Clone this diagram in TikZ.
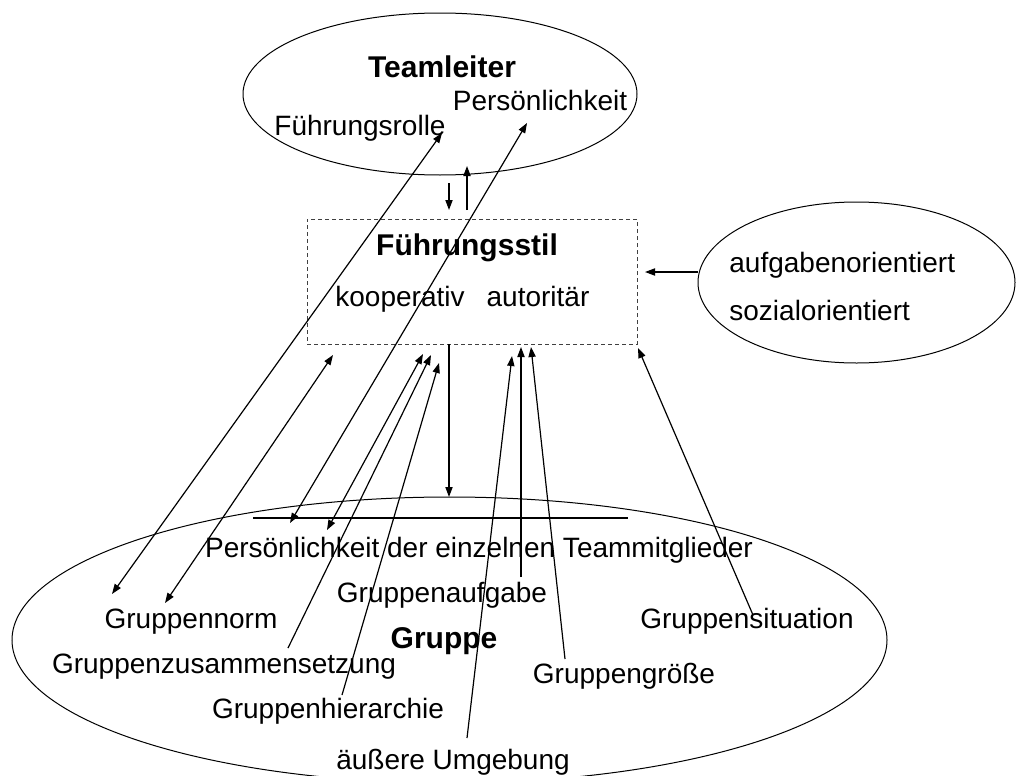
\documentclass[tikz,border=0pt]{standalone}
\usepackage{fontspec}
\setmainfont{Liberation Sans}
\usetikzlibrary{arrows.meta,shapes.geometric}
\begin{document}
\begin{tikzpicture}[x=0.5pt,y=-0.5pt,
  lbl/.style={anchor=base,inner sep=0pt,font=\fontsize{14}{16}\selectfont},
  ttl/.style={anchor=base,inner sep=0pt,font=\fontsize{15}{17}\selectfont\bfseries},
  oval/.style={draw,ellipse,inner sep=0pt,line width=0.5pt},
  con/.style={line width=0.6pt,-{Triangle[length=5pt,width=3.6pt]}},
  dcon/.style={line width=0.6pt,{Triangle[length=5pt,width=3.6pt]}-{Triangle[length=5pt,width=3.6pt]}},
  bar/.style={line width=1.1pt}]
\useasboundingbox (0,0) rectangle (1017,776);
\clip (0,0) rectangle (1017,776);
% shapes
\node[oval,minimum width=197pt,minimum height=81pt] (tl) at (440,94) {};
\node[oval,minimum width=158.5pt,minimum height=80.5pt] (orient) at (856.5,282.5) {};
\node[oval,minimum width=437.5pt,minimum height=143pt] (grp) at (449.5,640) {};
\node[draw=black!75,dashed,dash pattern=on 2pt off 1.5pt,line width=0.45pt,
      minimum width=165pt,minimum height=62.5pt,inner sep=0pt] (fs) at (472,281.5) {};
% texts
\node[ttl] (tTeam) at (442,77) {Teamleiter};
\node[lbl] (tPers) at (540,110) {Persönlichkeit};
\node[lbl] (tRolle) at (360,135) {Führungsrolle};
\node[ttl] (tStil) at (467,255) {Führungsstil};
\node[lbl] (tKoop) at (400,306) {kooperativ};
\node[lbl] (tAuto) at (538,306) {autoritär};
\node[lbl,anchor=base west] (tAufg) at (729,272) {aufgabenorientiert};
\node[lbl,anchor=base west] (tSoz) at (729,320) {sozialorientiert};
\node[lbl] (tEinz) at (479,557) {Persönlichkeit der einzelnen Teammitglieder};
\node[lbl] (tAufgabe) at (442,602) {Gruppenaufgabe};
\node[lbl] (tNorm) at (191,628) {Gruppennorm};
\node[ttl] (tGruppe) at (444,648) {Gruppe};
\node[lbl] (tZus) at (224,673) {Gruppenzusammensetzung};
\node[lbl] (tSit) at (747,628) {Gruppensituation};
\node[lbl] (tGroe) at (624,683) {Gruppengröße};
\node[lbl] (tHier) at (328,718) {Gruppenhierarchie};
\node[lbl] (tUmg) at (453,769) {äußere Umgebung};
% connector end points
\coordinate (a1) at (112,594);  \coordinate (b1) at (442,133);
\coordinate (a2) at (290,523);  \coordinate (b2) at (527,123);
\coordinate (a3) at (165,603);  \coordinate (b3) at (333,355);
\coordinate (a4) at (327,530);  \coordinate (b4) at (423,354);
\coordinate (a5) at (288,648);  \coordinate (b5) at (431,355);
\coordinate (a6) at (342,695);  \coordinate (b6) at (439,363);
\coordinate (a7) at (449,344);  \coordinate (b7) at (449,497);
\coordinate (a8) at (467,738);  \coordinate (b8) at (512,356);
\coordinate (a9) at (521,577);  \coordinate (b9) at (521,347);
\coordinate (a10) at (565,659); \coordinate (b10) at (531,347);
\coordinate (a11) at (753,615); \coordinate (b11) at (638,348);
\coordinate (a12) at (698,272); \coordinate (b12) at (645,272);
\coordinate (a13) at (449,183); \coordinate (b13) at (449,210);
\coordinate (a14) at (467,210); \coordinate (b14) at (467,166);
\coordinate (barL) at (253,518); \coordinate (barR) at (628,518);
% connectors
\draw[dcon] (a1) -- (b1);
\draw[dcon] (a2) -- (b2);
\draw[dcon] (a3) -- (b3);
\draw[dcon] (a4) -- (b4);
\draw[con] (a5) -- (b5);
\draw[con] (a6) -- (b6);
\draw[con] (a7) -- (b7);
\draw[con] (a8) -- (b8);
\draw[con] (a9) -- (b9);
\draw[con] (a10) -- (b10);
\draw[con] (a11) -- (b11);
\draw[con] (a12) -- (b12);
\draw[con] (a13) -- (b13);
\draw[con] (a14) -- (b14);
\draw[bar] (barL) -- (barR);
\end{tikzpicture}
\end{document}
